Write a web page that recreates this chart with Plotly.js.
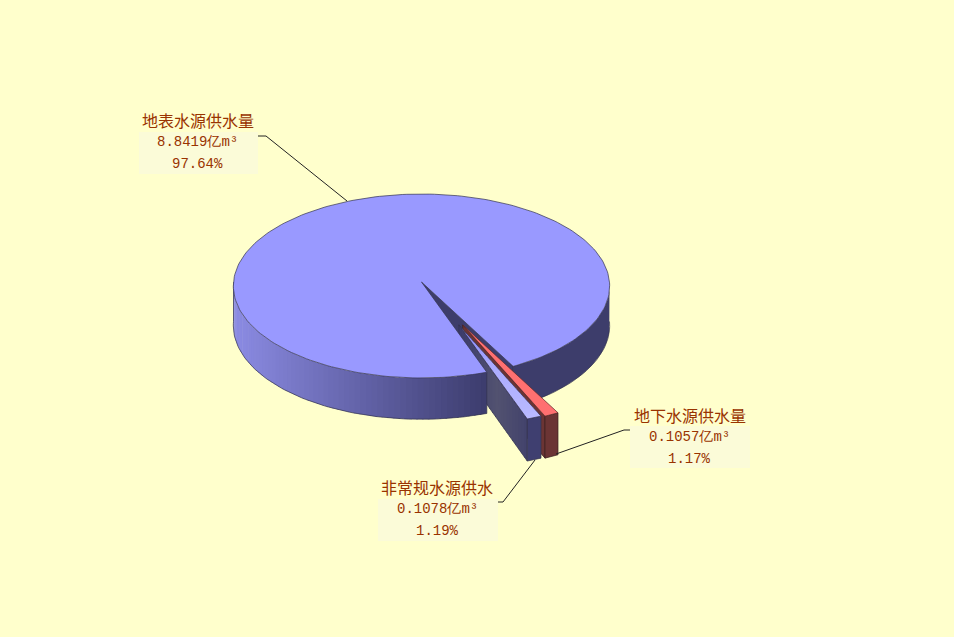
<!DOCTYPE html>
<html><head><meta charset="utf-8">
<script src="https://cdn.plot.ly/plotly-3.0.1.min.js"></script>
<style>html,body{margin:0;padding:0;background:#ffffcc}</style></head>
<body><div id="chart" style="width:954px;height:637px"></div>
<script>
const categories = ["地表水源供水量", "地下水源供水量", "非常规水源供水"];
const volumes = [8.8419, 0.1057, 0.1078];
const volumeLabels = ["8.8419", "0.1057", "0.1078"];
const percentLabels = ["97.64%", "1.17%", "1.19%"];
const total = volumes.reduce((a, b) => a + b, 0);

// projection of the tilted disc
const C = {x: 421.5, y: 282, a: 188, b: 91.8, k: 0.0435, depth: 39.5};
const rad = d => d * Math.PI / 180;
function proj(X, Y, low) {
  const s = 1 / (1 - C.k * Y);
  return [C.x + C.a * X * s, C.y + C.b * Y * s + (low ? C.depth * s : 0)];
}
const polar = (deg, r, o) => [o[0] + r * Math.sin(rad(deg)), o[1] + r * Math.cos(rad(deg))];

const start = 27.95;
const mainSweep = volumes[0] / total * 360;
const otherSweep1 = volumes[1] / total * 360;
const otherSweep2 = volumes[2] / total * 360;
const a0 = start, a1 = start + mainSweep;
const nStart = a1 - 360, nEnd = nStart + otherSweep2;
const gStart = nEnd, gEnd = gStart + otherSweep1;
const O0 = [0, 0], Og = [0.215, 0.4585], On = [0.195, 0.4585];

const traces = [];
function poly(pts, fill, line, w) {
  const xs = pts.map(p => p[0]).concat(pts[0][0]);
  const ys = pts.map(p => p[1]).concat(pts[0][1]);
  traces.push({type: "scatter", mode: "lines", x: xs, y: ys, fill: "toself", fillcolor: fill,
    line: {color: line || fill, width: line ? (w || 0.7) : 0}, hoverinfo: "skip", showlegend: false});
}
function path(pts, line, w) {
  traces.push({type: "scatter", mode: "lines", x: pts.map(p => p[0]), y: pts.map(p => p[1]),
    line: {color: line, width: w || 0.7}, hoverinfo: "skip", showlegend: false});
}
const P = (deg, r, o, low) => { const q = polar(deg, r, o); return proj(q[0], q[1], low); };
const arc = (from, to, o, low, n) => {
  const out = [];
  for (let i = 0; i <= n; i++) out.push(P(from + (to - from) * i / n, 1, o, low));
  return out;
};
const mix = (c1, c2, t) => `rgb(${c1.map((v, i) => Math.round(v + (c2[i] - v) * t)).join(",")})`;
const lerpStops = (stops, t) => {
  t = Math.max(0, Math.min(1, t));
  for (let i = 1; i < stops.length; i++) if (t <= stops[i][0]) {
    const f = (t - stops[i - 1][0]) / (stops[i][0] - stops[i - 1][0]);
    return mix(stops[i - 1][1], stops[i][1], f);
  }
  return mix(stops[stops.length - 1][1], stops[stops.length - 1][1], 0);
};
const edge = "#34344f";

// inner wall of the main slice seen through the gap
poly([P(a0, 0, O0), P(a0, 1, O0), P(a0, 1, O0, true), P(a0, 0, O0, true)], "#3d3d6b", edge);

// right part of the outer side
poly(arc(a0, 90, O0, false, 40).concat(arc(90, a0, O0, true, 40)), "#3d3d6b");
path(arc(a0, 90, O0, true, 40), edge);
path([P(a0, 1, O0), P(a0, 1, O0, true)], edge);

// ground water slice
poly([P(gStart, 0, Og), P(gStart, 1, Og), P(gStart, 1, Og, true), P(gStart, 0, Og, true)], "#6b3434", "#3a1f1f");
poly(arc(gStart, gEnd, Og, false, 4).concat(arc(gEnd, gStart, Og, true, 4)), "#6b3434", "#3a1f1f");
poly([P(gStart, 0, Og)].concat(arc(gStart, gEnd, Og, false, 4)), "#ff7070", "#5a2a2a");

// non-conventional slice
const wallStops = [[0, [60, 60, 108]], [0.55, [82, 82, 112]], [1, [66, 66, 108]]];
for (let i = 0; i < 24; i++) {
  const r0 = i / 24, r1 = Math.min(1, (i + 1.3) / 24);
  poly([P(nStart, r0, On), P(nStart, r1, On), P(nStart, r1, On, true), P(nStart, r0, On, true)], lerpStops(wallStops, r0));
}
path([P(nStart, 0, On), P(nStart, 1, On), P(nStart, 1, On, true), P(nStart, 0, On, true), P(nStart, 0, On)], edge);
poly(arc(nStart, nEnd, On, false, 4).concat(arc(nEnd, nStart, On, true, 4)), "#3f3f70", edge);
const topStops = [[0, [130, 130, 245]], [0.4, [170, 170, 255]], [1, [186, 186, 255]]];
for (let i = 0; i < 20; i++) {
  const r0 = i / 20, r1 = Math.min(1, (i + 1.3) / 20);
  poly([P(nStart, r0, On), P(nStart, r1, On), P(nEnd, r1, On), P(nEnd, r0, On)], lerpStops(topStops, r0));
}
path([P(nEnd, 0, On), P(nStart, 0, On), P(nStart, 1, On), P(nEnd, 1, On), P(nEnd, 0, On)], edge);

// left part of the outer side, shaded strips, in front of the exploded slices
const sideStops = [[0, [61, 61, 110]], [0.5, [100, 100, 170]], [1, [140, 140, 228]]];
const bands = 64;
for (let i = 0; i < bands; i++) {
  const end = 270, s = a1;
  const f = s + (end - s) * i / bands, t = s + (end - s) * (i + 1.3) / bands;
  const tt = Math.max(t, end);
  const px = P(f, 1, O0)[0];
  poly(arc(f, tt, O0, false, 2).concat(arc(tt, f, O0, true, 2)), lerpStops(sideStops, (487 - px) / 254));
}
path(arc(a1, 270, O0, true, 80), edge);
path([P(a1, 1, O0), P(a1, 1, O0, true)], edge);
path([P(270, 1, O0), P(270, 1, O0, true)], edge);

// top of the main slice
poly([P(a0, 0, O0)].concat(arc(a0, a1, O0, false, 240)), "#9999ff", edge);

// leader lines
const leaders = [
  [[258, 136], [266, 136], [347, 201]],
  [[630, 430], [624, 430], [556, 454]],
  [[498, 502], [503, 502], [535, 460]]
];
leaders.forEach(l => path(l, "#222", 1));

// label panels and text
const boxes = [[139, 132, 258, 174], [630, 426, 750, 468], [378, 499, 498, 541]];
const centers = [197.5, 689.5, 437];
const titleY = [120, 415, 487];
const shapes = boxes.map(b => ({type: "rect", layer: "below", xref: "x", yref: "y", x0: b[0], y0: b[1], x1: b[2], y1: b[3],
  fillcolor: "#fbfbd8", line: {width: 0}}));
const annotations = [];
const tcol = "#993300";
const cjk = "Noto Sans CJK SC";
const mono = "Liberation Mono";
categories.forEach((c, i) => {
  const add = (t, y, size, fam) => annotations.push({xref: "x", yref: "y", x: centers[i], y, text: t, showarrow: false,
    xanchor: "center", yanchor: "middle", font: {family: fam, size, color: tcol}});
  add(c, titleY[i], 16, cjk);
  add(volumeLabels[i] + "亿m³", titleY[i] + 22, 14, mono);
  add(percentLabels[i], titleY[i] + 44, 14, mono);
});

Plotly.newPlot("chart", traces, {
  width: 954, height: 637, margin: {l: 0, r: 0, t: 0, b: 0},
  paper_bgcolor: "#ffffcc", plot_bgcolor: "#ffffcc", showlegend: false,
  xaxis: {range: [0, 954], visible: false, fixedrange: true},
  yaxis: {range: [637, 0], visible: false, fixedrange: true},
  shapes, annotations
}, {displayModeBar: false, staticPlot: true});
</script></body></html>
